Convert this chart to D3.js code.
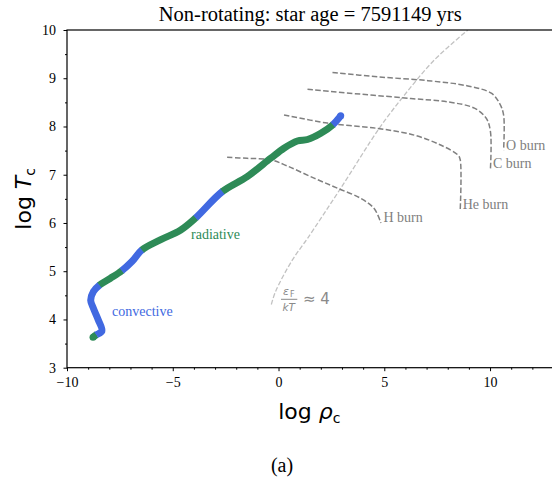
<!DOCTYPE html>
<html>
<head>
<meta charset="utf-8">
<script src="https://cdn.jsdelivr.net/npm/d3@7"></script>
<style>
  html, body { margin: 0; padding: 0; background: #fff; }
  svg { display: block; }
</style>
</head>
<body>
<svg id="chart" width="552" height="480"></svg>
<script>
// Central density / temperature track of the star (log10 values)
const trackLogRho = [-8.77, -8.62, -8.35, -8.52, -8.75, -8.88, -8.75, -8.47, -7.96, -7.41, -6.93, -6.46,
  -5.59, -4.64, -3.93, -2.66, -1.48, -0.375, 0.256, 0.89, 1.37, 2.0, 2.55, 2.94];
const trackLogT = [3.63, 3.68, 3.76, 3.99, 4.23, 4.40, 4.58, 4.71, 4.85, 5.01, 5.20, 5.44,
  5.65, 5.85, 6.10, 6.65, 6.96, 7.34, 7.55, 7.70, 7.73, 7.86, 8.03, 8.22];
// Energy transport in the core for each stretch of the track: [first point, last point, zone]
const trackZones = [
  [0, 1, "radiative"], [1, 7, "convective"], [7, 9, "radiative"], [9, 11, "convective"],
  [11, 14, "radiative"], [14, 15, "convective"], [15, 22, "radiative"], [22, 23, "convective"]
];

// Ignition curves for the nuclear burning stages
const burnNames = ["H burn", "He burn", "C burn", "O burn"];
const burnLogRho = [
  [-2.43, -1.48, -0.37, 0.42, 1.68, 2.79, 3.89, 4.52, 4.84],
  [0.26, 2.31, 4.68, 6.42, 7.69, 8.48, 8.59, 8.59],
  [1.37, 3.89, 6.26, 8.00, 9.26, 9.82, 10.02, 10.02],
  [2.55, 4.68, 7.06, 8.95, 10.06, 10.45, 10.64, 10.64]
];
const burnLogT = [
  [7.36, 7.34, 7.31, 7.18, 6.93, 6.72, 6.51, 6.30, 6.00],
  [8.24, 8.07, 7.96, 7.82, 7.61, 7.41, 7.31, 6.27],
  [8.77, 8.67, 8.58, 8.51, 8.38, 8.17, 7.89, 7.13],
  [9.12, 9.03, 8.95, 8.84, 8.69, 8.48, 8.24, 7.51]
];

// Electron degeneracy boundary, eps_F / kT ~ 4
const degenLogRho = [-0.34, -0.14, 0.65, 1.37, 2.94, 4.76, 5.95, 7.37, 8.95];
const degenLogT = [4.31, 4.58, 5.23, 5.68, 6.72, 7.96, 8.65, 9.38, 10.0];

const xTicks = [-10, -5, 0, 5, 10];
const yTicks = [3, 4, 5, 6, 7, 8, 9, 10];

const titleText = "Non-rotating: star age = 7591149 yrs";
const captionText = "(a)";

const colors = { convective: "#4169e1", radiative: "#2e8b57" };
const serif = "'Liberation Serif', 'Times New Roman', serif";
const sans = "'DejaVu Sans', sans-serif";

const svg = d3.select("#chart");
const x = d3.scaleLinear().domain([-10, 13]).range([67, 553.5]);
const y = d3.scaleLinear().domain([3, 10]).range([367.7, 30]);

const line = d3.line().x(d => x(d[0])).y(d => y(d[1])).curve(d3.curveCatmullRom.alpha(0.5));

// Plot area clip
svg.append("clipPath").attr("id", "plotclip")
  .append("rect").attr("x", x(-10)).attr("y", y(10)).attr("width", x(13) - x(-10)).attr("height", y(3) - y(10));

const plot = svg.append("g").attr("clip-path", "url(#plotclip)");

// Degeneracy line
plot.append("path")
  .datum(degenLogRho.map((r, i) => [r, degenLogT[i]]))
  .attr("d", line)
  .attr("fill", "none").attr("stroke", "#c2c2c2").attr("stroke-width", 1.3)
  .attr("stroke-dasharray", "4.8,2.1");

// Burning curves
burnNames.forEach((name, k) => {
  const pts = burnLogRho[k].map((r, i) => [r, burnLogT[k][i]]);
  plot.append("path").datum(pts).attr("d", line)
    .attr("fill", "none").attr("stroke", "#808080").attr("stroke-width", 1.5)
    .attr("stroke-dasharray", "5.5,2.4");
  const end = pts[pts.length - 1];
  svg.append("text").attr("x", x(end[0]) + 2.5).attr("y", y(end[1]) - 0.5)
    .attr("font-family", serif).attr("font-size", 14).attr("fill", "#808080")
    .text(name);
});

// Star track: one smooth path, coloured stretch by stretch
const trackPts = trackLogRho.map((r, i) => [r, trackLogT[i]]);
const trackPath = plot.append("path").datum(trackPts).attr("d", line)
  .attr("fill", "none").attr("stroke", "none");
const node = trackPath.node();
const total = node.getTotalLength();
// Arc length at each data point, found by scanning the rendered curve
const samples = [];
for (let s = 0; s <= total; s += 0.5) samples.push([s, node.getPointAtLength(s)]);
const lenAt = trackPts.map(p => {
  const px = x(p[0]), py = y(p[1]);
  let best = 0, bd = Infinity;
  samples.forEach(([s, q]) => {
    const d = (q.x - px) ** 2 + (q.y - py) ** 2;
    if (d < bd) { bd = d; best = s; }
  });
  return best;
});
lenAt[0] = 0; lenAt[lenAt.length - 1] = total;

trackZones.forEach(([a, b, zone]) => {
  const l0 = lenAt[a], l1 = lenAt[b];
  plot.append("path").datum(trackPts).attr("d", line)
    .attr("fill", "none").attr("stroke", colors[zone]).attr("stroke-width", 7)
    .attr("stroke-linecap", "butt")
    .attr("stroke-dasharray", `0,${l0},${l1 - l0 + 0.6},${total + 10}`);
});
// Rounded ends of the track
[[trackPts[0], trackZones[0][2]], [trackPts[trackPts.length - 1], trackZones[trackZones.length - 1][2]]]
  .forEach(([p, zone]) => {
    plot.append("circle").attr("cx", x(p[0])).attr("cy", y(p[1])).attr("r", 3.5).attr("fill", colors[zone]);
  });

// Zone labels
svg.append("text").attr("x", 112).attr("y", 316)
  .attr("font-family", serif).attr("font-size", 14).attr("fill", colors.convective).text("convective");
svg.append("text").attr("x", 191).attr("y", 239)
  .attr("font-family", serif).attr("font-size", 14).attr("fill", colors.radiative).text("radiative");

// eps_F / kT ≈ 4 label
const lab = svg.append("g").attr("fill", "#8a8a8a").attr("font-family", sans);
lab.append("text").attr("x", 283).attr("y", 295).attr("font-size", 11).attr("font-style", "italic").text("ε");
lab.append("text").attr("x", 290).attr("y", 297).attr("font-size", 8).text("F");
lab.append("line").attr("x1", 281).attr("x2", 297.3).attr("y1", 299.3).attr("y2", 299.3)
  .attr("stroke", "#8a8a8a").attr("stroke-width", 1);
lab.append("text").attr("x", 282.5).attr("y", 310.7).attr("font-size", 10.5).attr("font-style", "italic").text("kT");
lab.append("text").attr("x", 303).attr("y", 304).attr("font-size", 15).text("≈ 4");

// Axes
const fmt = d3.format("d");
const xAxis = svg.append("g").attr("transform", `translate(0,${y(3)})`)
  .call(d3.axisBottom(x).tickValues(xTicks).tickFormat(fmt).tickSize(3.5).tickSizeOuter(0).tickPadding(6));
const xMinor = svg.append("g").attr("transform", `translate(0,${y(3)})`)
  .call(d3.axisBottom(x).tickValues(d3.range(-10, 14).filter(v => v % 5 !== 0)).tickFormat("").tickSize(2).tickSizeOuter(0));
const yAxis = svg.append("g").attr("transform", `translate(${x(-10)},0)`)
  .call(d3.axisLeft(y).tickValues(yTicks).tickFormat(fmt).tickSize(3.5).tickSizeOuter(0).tickPadding(7.5));
const yMinor = svg.append("g").attr("transform", `translate(${x(-10)},0)`)
  .call(d3.axisLeft(y).tickValues(d3.range(3.5, 10, 1)).tickFormat("").tickSize(2).tickSizeOuter(0));

[xAxis, xMinor, yAxis, yMinor].forEach(g => {
  g.select(".domain").remove();
  g.selectAll("line").attr("stroke", "#000").attr("stroke-width", 1);
  g.selectAll("text").attr("font-family", serif).attr("font-size", 14).attr("fill", "#000");
});

// Frame
svg.append("rect").attr("x", x(-10)).attr("y", y(10)).attr("width", x(13) - x(-10)).attr("height", y(3) - y(10))
  .attr("fill", "none").attr("stroke", "#000").attr("stroke-width", 1.2);

// Title
svg.append("text").attr("x", (x(-10) + x(13)) / 2).attr("y", 21).attr("text-anchor", "middle")
  .attr("font-family", serif).attr("font-size", 20.5).attr("fill", "#000").text(titleText);

// Axis labels
const xl = svg.append("text").attr("x", (x(-10) + x(13)) / 2 - 1).attr("y", 419).attr("text-anchor", "middle")
  .attr("font-family", sans).attr("font-size", 22).attr("fill", "#000");
xl.append("tspan").text("log ");
xl.append("tspan").attr("font-style", "italic").text("ρ");
xl.append("tspan").attr("font-size", 14).attr("dy", 4).text("c");

const yl = svg.append("text").attr("transform", `translate(31,${(y(3) + y(10)) / 2}) rotate(-90)`)
  .attr("text-anchor", "middle").attr("font-family", sans).attr("font-size", 22).attr("fill", "#000");
yl.append("tspan").text("log ");
yl.append("tspan").attr("font-style", "italic").text("T");
yl.append("tspan").attr("font-size", 14).attr("dy", 4).text("c");

// Caption
svg.append("text").attr("x", 282).attr("y", 472).attr("text-anchor", "middle")
  .attr("font-family", serif).attr("font-size", 20).attr("fill", "#000").text(captionText);
</script>
</body>
</html>
